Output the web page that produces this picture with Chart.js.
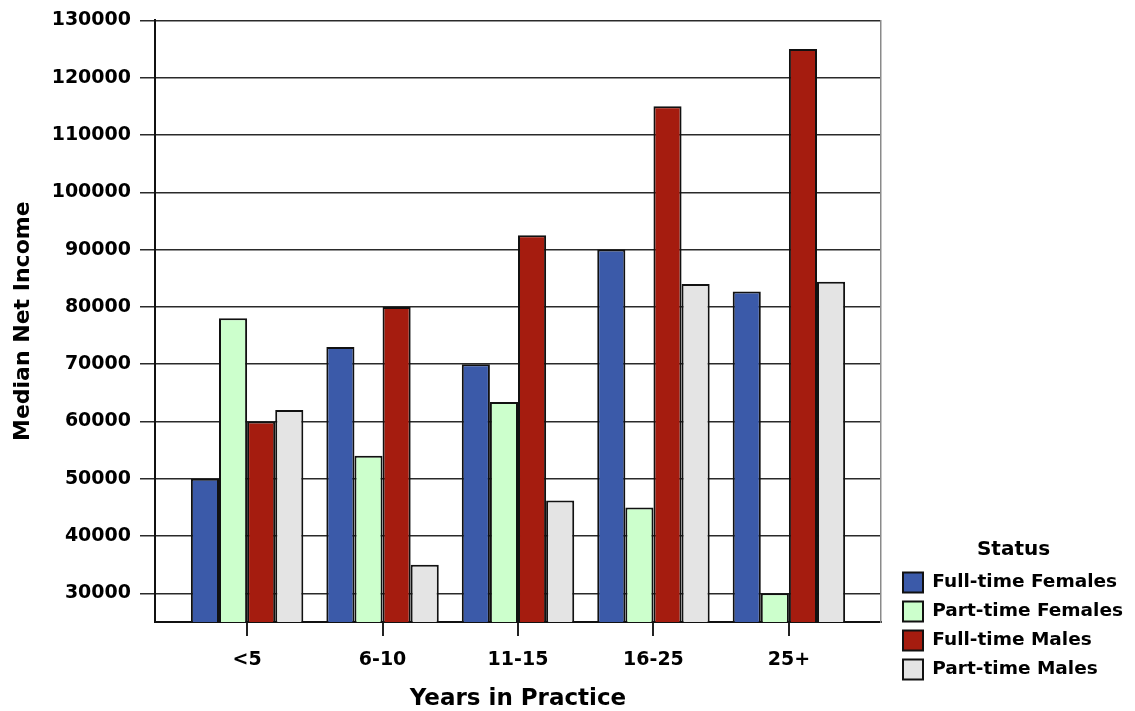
<!DOCTYPE html>
<html>
<head>
<meta charset="utf-8">
<script src="https://cdn.jsdelivr.net/npm/chart.js@4/dist/chart.umd.min.js"></script>
<style>
  html, body { margin: 0; padding: 0; background: #ffffff; }
  #wrap { width: 1135px; height: 711px; position: relative; }
</style>
</head>
<body>
<div id="wrap"><canvas id="c" width="1135" height="711"></canvas></div>
<script>
const categories = ['<5', '6-10', '11-15', '16-25', '25+'];
const fullTimeFemales = [50000, 73000, 70000, 90000, 82700];
const partTimeFemales = [78000, 54000, 63400, 45000, 30000];
const fullTimeMales   = [60000, 80000, 92500, 115000, 125000];
const partTimeMales   = [62000, 35000, 46200, 84000, 84400];
const seriesNames = ['Full-time Females', 'Part-time Females', 'Full-time Males', 'Part-time Males'];
const yTicks = [30000, 40000, 50000, 60000, 70000, 80000, 90000, 100000, 110000, 120000, 130000];

const FONT = '"DejaVu Sans", Verdana, sans-serif';
const fills = ['#3b5aa9', '#ccffcc', '#a51c0f', '#e4e4e4'];
const seriesData = [fullTimeFemales, partTimeFemales, fullTimeMales, partTimeMales];

const data = {
  labels: categories.map((_, i) => i),
  datasets: seriesNames.map((name, k) => ({
    label: name,
    data: seriesData[k],
    backgroundColor: fills[k],
    borderColor: '#111111',
    borderWidth: 2,
    borderSkipped: 'bottom'
  }))
};

new Chart(document.getElementById('c'), {
  type: 'bar',
  data: data,
  options: {
    responsive: false,
    animation: false,
    devicePixelRatio: 1,
    layout: { padding: { top: 18, bottom: 22.5, left: 0, right: 2 } },
    datasets: { bar: { categoryPercentage: 0.83, barPercentage: 1.0 } },
    plugins: {
      tooltip: { enabled: false },
      legend: {
        position: 'right',
        align: 'end',
        maxWidth: 320,
        title: {
          display: true,
          text: 'Status',
          color: '#000',
          font: { family: FONT, size: 20, weight: 'bold' },
          padding: 0
        },
        labels: {
          color: '#000',
          boxWidth: 20,
          boxHeight: 20,
          padding: 9,
          font: { family: FONT, size: 18.5, weight: 'bold' }
        }
      }
    },
    scales: {
      x: {
        type: 'linear',
        min: -0.68,
        max: 4.68,
        offset: false,
        grid: { offset: false, drawOnChartArea: false, drawTicks: true, tickLength: 14, color: '#222', lineWidth: 2 },
        border: { display: true, color: '#111', width: 2 },
        afterBuildTicks: (s) => { s.ticks = categories.map((_, i) => ({ value: i })); },
        ticks: {
          maxRotation: 0,
          autoSkip: false,
          padding: 13,
          color: '#000',
          font: { family: FONT, size: 19, weight: 'bold' },
          callback: (v) => categories[v]
        },
        title: {
          display: true,
          text: 'Years in Practice',
          color: '#000',
          font: { family: FONT, size: 23, weight: 'bold' },
          padding: { top: 0, bottom: -24 }
        },
        afterFit: (s) => { s.height = 66.5; }
      },
      y: {
        min: 25000,
        max: 130000,
        grid: { color: '#2a2a2a', lineWidth: 1.5, drawTicks: true, tickLength: 15 },
        border: { display: true, color: '#111', width: 2 },
        afterBuildTicks: (s) => { s.ticks = yTicks.map((v) => ({ value: v })); },
        ticks: {
          autoSkip: false,
          padding: 9,
          color: '#000',
          font: { family: FONT, size: 19, weight: 'bold' },
          callback: (v) => String(v)
        },
        title: {
          display: true,
          text: 'Median Net Income',
          color: '#000',
          font: { family: FONT, size: 22, weight: 'bold' },
          padding: { top: 10, bottom: 0 }
        },
        afterFit: (s) => { s.width = 155; }
      },
      y2: {
        type: 'linear',
        position: 'right',
        display: true,
        grid: { drawOnChartArea: false, drawTicks: false },
        border: { display: true, color: '#8a8a8a', width: 1.5 },
        ticks: { display: false },
        afterFit: (s) => { s.width = 13; }
      }
    }
  }
});
</script>
</body>
</html>
